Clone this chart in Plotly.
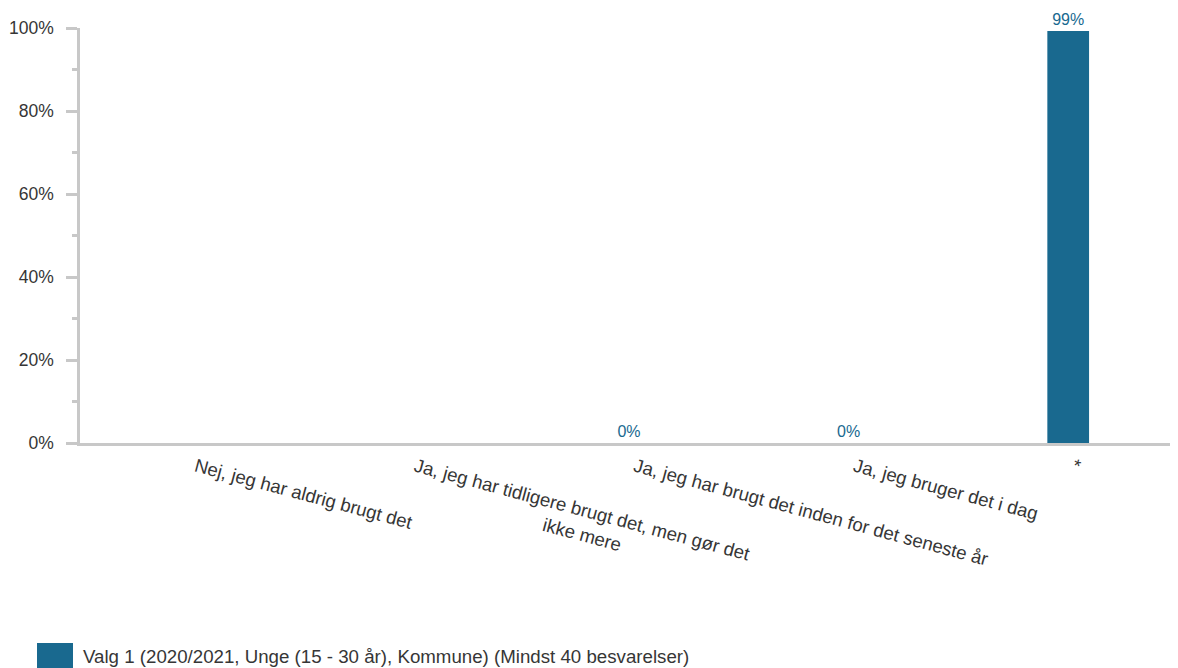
import plotly.graph_objects as go

NBSP = "\u00a0"
categories = [
    "Nej, jeg har aldrig brugt det",
    "Ja, jeg har tidligere brugt det, men gør det<br>" + NBSP * 27 + "ikke mere",
    "Ja, jeg har brugt det inden for det seneste år",
    "Ja, jeg bruger det i dag",
    "*",
]
values = [None, None, 0, 0, 99.3]
series_name = "Valg 1 (2020/2021, Unge (15 - 30 år), Kommune) (Mindst 40 besvarelser)"
y_ticks = [0, 20, 40, 60, 80, 100]

BAR = "#19698F"
AXIS = "#c8c8c8"
TXT = "#363636"
FONT = "Liberation Sans, Arial, sans-serif"

# page body adds an 8px offset; plot area spans window x 80..1178, y 28..443
fig = go.Figure()
fig.add_trace(go.Bar(
    x=categories, y=values, name=series_name,
    marker=dict(color=BAR, line=dict(width=0)),
    width=0.19,
    texttemplate="%{y:.0f}%", textposition="outside",
    textfont=dict(color=BAR, size=16, family=FONT),
    cliponaxis=False, showlegend=False,
))

fig.update_layout(
    width=1170, height=660,
    margin=dict(l=72, r=0, t=20, b=225),
    plot_bgcolor="white", paper_bgcolor="white",
    font=dict(family=FONT, size=18, color=TXT),
    bargap=0.81,
)
fig.update_xaxes(
    showline=True, linecolor=AXIS, linewidth=3,
    ticks="", tickangle=15, showgrid=False,
    ticklabelshift=6, ticklabelstandoff=3,
    tickfont=dict(size=18.6, color=TXT),
)
fig.update_yaxes(
    range=[0, 100], tickvals=y_ticks, ticktext=[f"{v}%" for v in y_ticks],
    showline=True, linecolor=AXIS, linewidth=2.5,
    ticks="outside", ticklen=11, tickcolor=AXIS, tickwidth=2.5,
    minor=dict(dtick=10, ticks="outside", ticklen=5, tickcolor=AXIS, tickwidth=2.5),
    showgrid=False, zeroline=False, ticklabelstandoff=9,
    tickfont=dict(size=17.5, color=TXT),
)

# legend swatch drawn manually (large swatch like the reference)
def px(xw):
    return (xw - 80) / 1098

def py(yw):
    return (443 - yw) / 415

fig.add_shape(type="rect", xref="paper", yref="paper",
              x0=px(37), x1=px(73), y0=py(680), y1=py(643),
              fillcolor=BAR, line=dict(width=0))
fig.add_annotation(xref="paper", yref="paper",
                   x=px(81), y=py(656),
                   text=series_name, showarrow=False,
                   xanchor="left", yanchor="middle",
                   font=dict(size=18.7, color=TXT, family=FONT))

fig.write_html("out.html")
